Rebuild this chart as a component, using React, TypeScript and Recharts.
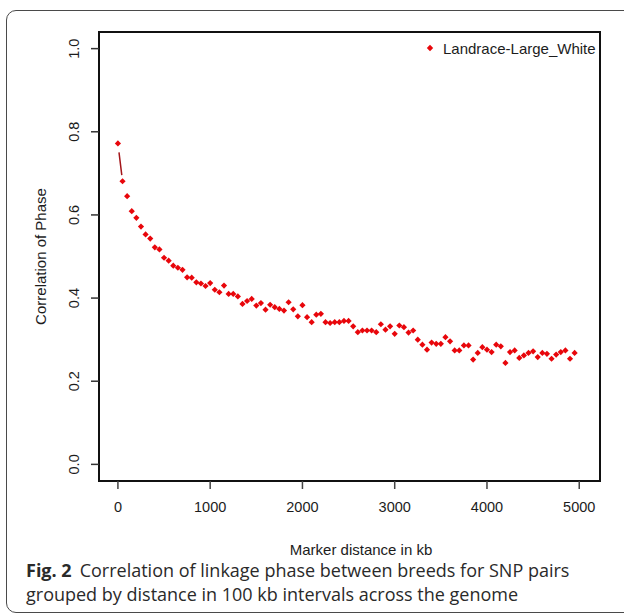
import React from 'react';
import {
  ComposedChart,
  Scatter,
  Line,
  XAxis,
  YAxis,
  ReferenceArea,
  Legend,
} from 'recharts';

// marker distance (kb), one bin every 50 kb
const distanceKb = [
  0, 50, 100, 150, 200, 250, 300, 350, 400, 450,
  500, 550, 600, 650, 700, 750, 800, 850, 900, 950,
  1000, 1050, 1100, 1150, 1200, 1250, 1300, 1350, 1400, 1450,
  1500, 1550, 1600, 1650, 1700, 1750, 1800, 1850, 1900, 1950,
  2000, 2050, 2100, 2150, 2200, 2250, 2300, 2350, 2400, 2450,
  2500, 2550, 2600, 2650, 2700, 2750, 2800, 2850, 2900, 2950,
  3000, 3050, 3100, 3150, 3200, 3250, 3300, 3350, 3400, 3450,
  3500, 3550, 3600, 3650, 3700, 3750, 3800, 3850, 3900, 3950,
  4000, 4050, 4100, 4150, 4200, 4250, 4300, 4350, 4400, 4450,
  4500, 4550, 4600, 4650, 4700, 4750, 4800, 4850, 4900, 4950,
];

// correlation of phase, Landrace-Large_White
const phaseCorrelation = [
  0.772, 0.681, 0.645, 0.609, 0.593, 0.572, 0.553, 0.543, 0.522, 0.517,
  0.497, 0.490, 0.478, 0.473, 0.468, 0.450, 0.449, 0.438, 0.435, 0.429,
  0.436, 0.420, 0.414, 0.430, 0.410, 0.410, 0.404, 0.386, 0.393, 0.398,
  0.382, 0.388, 0.372, 0.384, 0.378, 0.374, 0.370, 0.390, 0.373, 0.356,
  0.383, 0.354, 0.342, 0.360, 0.362, 0.342, 0.340, 0.342, 0.342, 0.345,
  0.345, 0.332, 0.318, 0.322, 0.322, 0.322, 0.318, 0.337, 0.324, 0.332,
  0.314, 0.334, 0.330, 0.317, 0.322, 0.300, 0.288, 0.276, 0.293, 0.290,
  0.290, 0.306, 0.296, 0.274, 0.274, 0.286, 0.286, 0.252, 0.268, 0.282,
  0.276, 0.270, 0.288, 0.284, 0.244, 0.270, 0.274, 0.256, 0.262, 0.268,
  0.272, 0.258, 0.268, 0.266, 0.254, 0.264, 0.270, 0.274, 0.254, 0.268,
];

const xTicks = [0, 1000, 2000, 3000, 4000, 5000];
const yTicks = [0, 0.2, 0.4, 0.6, 0.8, 1.0];
const seriesName = 'Landrace-Large_White';

const points = distanceKb.map((d, i) => ({ distance: d, corr: phaseCorrelation[i] }));

const FONT = '"Liberation Sans", Arial, Helvetica, sans-serif';
const INK = '#1c1c1c';
const RED = '#e8060b';

function DiamondDot(props: any) {
  const { cx, cy } = props;
  const r = 3.1;
  return (
    <polygon
      points={`${cx},${cy - r} ${cx + r},${cy} ${cx},${cy + r} ${cx - r},${cy}`}
      fill={RED}
    />
  );
}

function YTick(props: any) {
  const { x, y, payload } = props;
  const bx = x - 10;
  return (
    <text
      x={bx}
      y={y}
      transform={`rotate(-90, ${bx}, ${y})`}
      textAnchor="middle"
      fontSize={14.5}
      fontFamily={FONT}
      fill={INK}
    >
      {Number(payload.value).toFixed(1)}
    </text>
  );
}

function yTitle(props: any) {
  const vb = props.viewBox;
  const x = vb.x + 46;
  const y = vb.y + vb.height / 2;
  return (
    <text
      x={x}
      y={y}
      transform={`rotate(-90, ${x}, ${y})`}
      textAnchor="middle"
      fontSize={15}
      fontFamily={FONT}
      fill={INK}
    >
      Correlation of Phase
    </text>
  );
}

function xTitle(props: any) {
  const vb = props.viewBox;
  return (
    <text
      x={vb.x + 262}
      y={vb.y + 74}
      textAnchor="middle"
      fontSize={15}
      fontFamily={FONT}
      fill={INK}
    >
      Marker distance in kb
    </text>
  );
}

function LegendBox(props: any) {
  const items = (props.payload || []).filter((p: any) => p.type !== 'none');
  return (
    <div style={{ fontFamily: FONT, fontSize: 15, color: INK }}>
      {items.map((entry: any) => (
        <div key={entry.value} style={{ display: 'flex', alignItems: 'center', height: 18 }}>
          <svg width={12} height={12} style={{ marginRight: 7 }}>
            <polygon points="6,2.8 9.2,6 6,9.2 2.8,6" fill={RED} />
          </svg>
          <span>{entry.value}</span>
        </div>
      ))}
    </div>
  );
}

export default function App() {
  return (
    <div style={{ position: 'absolute', left: 0, top: 0, width: 624, height: 613, overflow: 'hidden', background: '#fff' }}>
      <div
        style={{
          position: 'absolute',
          left: 6,
          top: 10,
          width: 700,
          height: 601,
          border: '1px solid #4a4a4a',
          borderRadius: 10,
        }}
      />
      <div style={{ position: 'absolute', left: 0, top: 0 }}>
        <ComposedChart
          width={624}
          height={613}
          data={points}
          margin={{ top: 32, right: 24, left: 0, bottom: 54 }}
        >
          <XAxis
            dataKey="distance"
            type="number"
            domain={[-205, 5225]}
            ticks={xTicks}
            allowDataOverflow
            height={60}
            tickSize={8}
            tickMargin={13}
            axisLine={false}
            tickLine={{ stroke: '#444', strokeWidth: 1.5 }}
            tick={{ fontSize: 14.5, fontFamily: FONT, fill: INK }}
            label={{ value: 'Marker distance in kb', content: xTitle }}
          />
          <YAxis
            type="number"
            domain={[-0.04, 1.04]}
            ticks={yTicks}
            allowDataOverflow
            width={99}
            tickSize={8}
            axisLine={false}
            tickLine={{ stroke: '#333', strokeWidth: 1.5 }}
            tick={<YTick />}
            label={{ value: 'Correlation of Phase', content: yTitle }}
          />
          <ReferenceArea
            x1={-205}
            x2={5225}
            y1={-0.04}
            y2={1.04}
            fill="none"
            fillOpacity={0}
            stroke="#111"
            strokeWidth={2}
            ifOverflow="visible"
          />
          <Line
            data={points.slice(0, 2)}
            dataKey="corr"
            type="linear"
            stroke="#a3161a"
            strokeWidth={1.5}
            strokeDasharray="0 9 23 60"
            dot={false}
            activeDot={false}
            legendType="none"
            isAnimationActive={false}
          />
          <Scatter
            name={seriesName}
            data={points}
            dataKey="corr"
            fill={RED}
            shape={DiamondDot}
            legendType="diamond"
            isAnimationActive={false}
          />
          <Legend
            content={LegendBox}
            wrapperStyle={{ position: 'absolute', left: 424, top: 39, width: 190 }}
          />
        </ComposedChart>
      </div>
      <div
        style={{
          position: 'absolute',
          left: 26,
          top: 558,
          width: 595,
          fontFamily: '"Open Sans", "Noto Sans", sans-serif',
          fontSize: 18,
          lineHeight: '24px',
          color: '#2a2a2a',
        }}
      >
        <span style={{ fontWeight: 700, marginRight: 8 }}>Fig. 2</span>
        Correlation of linkage phase between breeds for SNP pairs
        <br />
        grouped by distance in 100 kb intervals across the genome
      </div>
    </div>
  );
}
